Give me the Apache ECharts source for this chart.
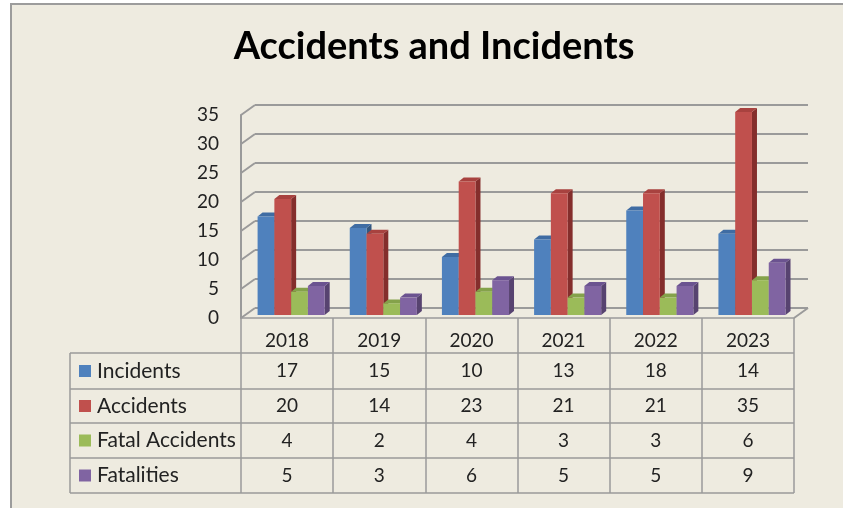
<!DOCTYPE html>
<html>
<head>
<meta charset="utf-8">
<script src="https://cdn.jsdelivr.net/npm/echarts@6/dist/echarts.min.js"></script>
<style>
html,body{margin:0;padding:0;background:#ffffff;}
#chart{width:843px;height:508px;}
</style>
</head>
<body>
<div id="chart"></div>
<script>
const titleText = 'Accidents and Incidents';
const categories = ['2018', '2019', '2020', '2021', '2022', '2023'];
const seriesNames = ['Incidents', 'Accidents', 'Fatal Accidents', 'Fatalities'];
const incidents = [17, 15, 10, 13, 18, 14];
const accidents = [20, 14, 23, 21, 21, 35];
const fatalAccidents = [4, 2, 4, 3, 3, 6];
const fatalities = [5, 3, 6, 5, 5, 9];
const yTicks = [0, 5, 10, 15, 20, 25, 30, 35];

const allValues = [incidents, accidents, fatalAccidents, fatalities];
const frontColors = ['#4F81BD', '#C0504D', '#9BBB59', '#8064A2'];
const topColors = ['#3F6CA3', '#A8423F', '#84A24A', '#6B5390'];
const sideColors = ['#34577F', '#842E2C', '#6A803D', '#574370'];

const FONT = 'Lato';
const GRID = {left: 241, right: 49, top: 115, bottom: 190};
const DEPTH_X = 14, DEPTH_Y = 10;
const LINE = '#9a9a9a';
const rowOffsets = [53, 88, 122.5, 157.5];   // row centres below floor edge
const rowLines = [35, 71, 105, 140, 175];     // table horizontal lines below floor edge
const TABLE_LEFT = 70;

const chart = echarts.init(document.getElementById('chart'), null, {renderer: 'canvas'});

function barSeries(s) {
  return {
    type: 'custom',
    name: seriesNames[s],
    xAxisIndex: 0, yAxisIndex: 0,
    clip: false,
    z: 5,
    data: allValues[s].map((v, i) => [i, v]),
    renderItem: function (params, api) {
      const idx = api.value(0), val = api.value(1);
      const c = api.coord([idx, val]);
      const b = api.coord([idx, 0]);
      const band = api.size([1, 0])[0];
      const w = band * 0.182;
      const x0 = c[0] - band * 0.32 + s * w;
      const x1 = x0 + w;
      const yt = c[1] - 3, yb = b[1] - 3;
      const dx = 5, dy = 4;
      return {
        type: 'group',
        children: [
          {type: 'polygon', shape: {points: [[x1, yt], [x1 + dx, yt - dy], [x1 + dx, yb - dy], [x1, yb]]}, style: {fill: sideColors[s]}},
          {type: 'polygon', shape: {points: [[x0, yt], [x0 + dx, yt - dy], [x1 + dx, yt - dy], [x1, yt]]}, style: {fill: topColors[s]}},
          {type: 'rect', shape: {x: x0, y: yt, width: w, height: yb - yt}, style: {fill: frontColors[s]}},
          {type: 'text', style: {text: String(val), x: c[0], y: b[1] + rowOffsets[s], align: 'center', verticalAlign: 'middle', fontFamily: FONT, fontSize: 19, fill: '#222'}}
        ]
      };
    }
  };
}

const graphics = [
  {type: 'rect', z: -10, shape: {x: 11, y: 4, width: 845, height: 520}, style: {fill: '#EEEBE0', stroke: '#9c9c9c', lineWidth: 2}, silent: true}
];
const floorY = 508 - GRID.bottom;
rowLines.forEach(off => {
  graphics.push({type: 'line', z: 1, shape: {x1: TABLE_LEFT, y1: floorY + off, x2: 843 - GRID.right, y2: floorY + off}, style: {stroke: LINE, lineWidth: 1.5}});
});
graphics.push({type: 'line', z: 1, shape: {x1: TABLE_LEFT, y1: floorY + rowLines[0], x2: TABLE_LEFT, y2: floorY + rowLines[rowLines.length - 1]}, style: {stroke: LINE, lineWidth: 1.5}});
seriesNames.forEach((n, s) => {
  const cy = floorY + rowOffsets[s];
  graphics.push({type: 'rect', z: 2, shape: {x: 79, y: cy - 6, width: 12, height: 12}, style: {fill: frontColors[s]}});
  graphics.push({type: 'text', z: 2, style: {text: n, x: 97, y: cy, verticalAlign: 'middle', fontFamily: FONT, fontSize: 21, fill: '#222'}});
});

const option = {
  animation: false,
  backgroundColor: 'transparent',
  title: {
    text: titleText, left: 429, top: 23, textAlign: 'center',
    textStyle: {fontFamily: FONT, fontWeight: 'bold', fontSize: 38, color: '#000'}
  },
  graphic: graphics,
  grid: [
    {left: GRID.left, right: GRID.right, top: GRID.top, bottom: GRID.bottom},
    {left: GRID.left + DEPTH_X, right: GRID.right - DEPTH_X, top: GRID.top - DEPTH_Y, bottom: GRID.bottom + DEPTH_Y}
  ],
  xAxis: [
    {
      type: 'category', gridIndex: 0, data: categories,
      axisLine: {show: true, lineStyle: {color: LINE, width: 1.5}},
      axisTick: {show: true, length: 175, lineStyle: {color: LINE, width: 1.5}},
      axisLabel: {margin: 13, fontFamily: FONT, fontSize: 19, color: '#222'}
    },
    {type: 'category', gridIndex: 1, data: categories, show: false}
  ],
  yAxis: [
    {
      type: 'value', gridIndex: 0, min: 0, max: 35, interval: 5,
      axisLine: {show: true, lineStyle: {color: LINE, width: 2}},
      axisTick: {show: false},
      splitLine: {show: false},
      axisLabel: {margin: 22, fontFamily: FONT, fontSize: 19, color: '#222'}
    },
    {
      type: 'value', gridIndex: 1, min: 0, max: 35, interval: 5,
      axisLine: {show: false}, axisTick: {show: false}, axisLabel: {show: false},
      splitLine: {show: true, lineStyle: {color: LINE, width: 2}}
    }
  ],
  series: [
    {
      type: 'custom', name: 'walls', xAxisIndex: 0, yAxisIndex: 0, clip: false, z: 1, silent: true,
      data: yTicks.map(v => [0, v]),
      renderItem: function (params, api) {
        const p = api.coord([0, api.value(1)]);
        const cs = params.coordSys;
        const children = [{type: 'line', shape: {x1: cs.x, y1: p[1], x2: cs.x + DEPTH_X, y2: p[1] - DEPTH_Y}, style: {stroke: LINE, lineWidth: 2}}];
        if (api.value(1) === 0) {
          children.push({type: 'line', shape: {x1: cs.x + cs.width, y1: p[1], x2: cs.x + cs.width + DEPTH_X, y2: p[1] - DEPTH_Y}, style: {stroke: LINE, lineWidth: 2}});
        }
        return {type: 'group', children: children};
      }
    },
    barSeries(0), barSeries(1), barSeries(2), barSeries(3)
  ]
};
chart.setOption(option);
</script>
</body>
</html>
